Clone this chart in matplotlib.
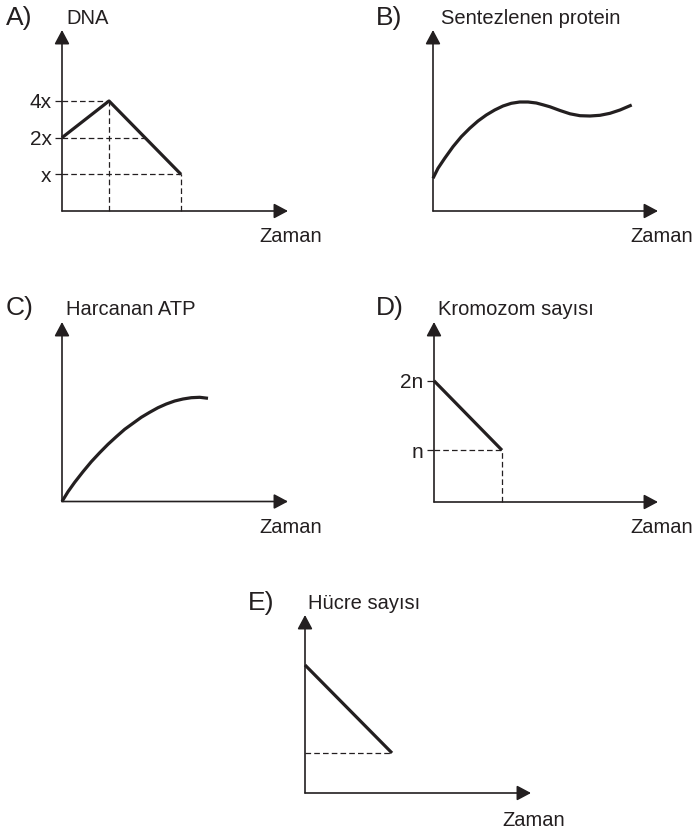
import numpy as np
import matplotlib
matplotlib.use("Agg")
import matplotlib.pyplot as plt
from matplotlib.patches import ArrowStyle

plt.rcParams["font.family"] = ["Liberation Sans", "DejaVu Sans"]

# ---- data (schematic units) ----
# A) DNA amount over time
dna_time = [0.0, 4.7, 11.9]
dna_level = [2, 4, 1]
dna_ticks = [1, 2, 4]
dna_ticklabels = ["x", "2x", "4x"]

# B) synthesised protein
protein_time = [0.0, 0.5, 1.17, 2.0, 2.83, 3.67, 4.5, 5.33, 6.17, 7.0, 7.83, 8.67,
                9.5, 10.33, 11.0, 11.7, 12.7, 13.7, 14.7, 15.7, 16.7, 17.7, 18.7, 19.87]
protein_amount = [3.27, 4.27, 5.27, 6.43, 7.43, 8.27, 9.0, 9.6, 10.1, 10.5, 10.77, 10.9,
                  10.9, 10.8, 10.62, 10.42, 10.05, 9.72, 9.53, 9.5, 9.57, 9.77, 10.1, 10.6]

# C) ATP consumed
atp_time = [0.0, 0.6, 1.27, 2.1, 2.93, 3.77, 4.6, 5.43, 6.27, 7.1, 7.93, 8.77,
            9.6, 10.43, 11.27, 12.1, 12.93, 13.77, 14.6]
atp_used = [0.0, 0.98, 1.92, 2.98, 3.98, 4.88, 5.72, 6.48, 7.22, 7.82, 8.42, 8.92,
            9.38, 9.75, 10.05, 10.25, 10.38, 10.42, 10.32]

# D) chromosome number
chrom_time = [0.0, 6.8]
chrom_level = [2, 1]
chrom_ticks = [1, 2]
chrom_ticklabels = ["n", "2n"]

# E) cell number
cell_time = [0.0, 8.7]
cell_count = [12.8, 4.0]

# ---- styling ----
W, H = 694, 834
INK = "#231f20"
fig = plt.figure(figsize=(W / 100, H / 100), dpi=100)
fig.patch.set_facecolor("white")

LABEL_FS = 14.5
LETTER_FS = 19
TICK_FS = 15
CURVE_LW = 2.3
AXIS_LW = 1.2
DASH_LW = 0.9
DASH = (0, (4.5, 2.5))
HEAD = ArrowStyle("-|>", head_length=0.45, head_width=0.24)


def panel(ox, oy, tx, ty, xlim, ylim, yscale="linear"):
    """Axes whose lower-left corner is the origin and whose edges are the arrow tips (pixels)."""
    ax = fig.add_axes([ox / W, 1 - oy / H, (tx - ox) / W, (oy - ty) / H])
    if yscale == "log":
        ax.set_yscale("log", base=2)
    ax.set_xlim(*xlim)
    ax.set_ylim(*ylim)
    for s in ax.spines.values():
        s.set_visible(False)
    ax.set_xticks([])
    ax.set_yticks([])
    ax.minorticks_off()
    ax.patch.set_alpha(0)
    arrow = dict(arrowstyle=HEAD, color=INK, lw=AXIS_LW, mutation_scale=19,
                 shrinkA=0, shrinkB=0)
    ax.annotate("", xy=(1, 0), xytext=(0, 0), xycoords="axes fraction",
                textcoords="axes fraction", arrowprops=arrow, annotation_clip=False)
    ax.annotate("", xy=(0, 1), xytext=(0, 0), xycoords="axes fraction",
                textcoords="axes fraction", arrowprops=arrow, annotation_clip=False)
    return ax


def yticks(ax, ticks, labels):
    ax.set_yticks(ticks)
    ax.set_yticklabels(labels)
    ax.minorticks_off()
    ax.tick_params(axis="y", length=5, width=DASH_LW, color=INK, pad=2.5,
                   labelsize=TICK_FS, labelcolor=INK, direction="out")


def dashed(ax, xs, ys):
    ax.plot(xs, ys, color=INK, lw=DASH_LW, ls=DASH, clip_on=False)


def curve(ax, xs, ys):
    ax.plot(xs, ys, color=INK, lw=CURVE_LW, solid_capstyle="butt",
            solid_joinstyle="round", clip_on=False)


def px_text(x, y, s, size=LABEL_FS, **kw):
    fig.text(x / W, 1 - y / H, s, fontsize=size, color=INK, ha="left",
             va="baseline", **kw)


# A) DNA
axA = panel(62, 211, 288, 30, (0, 22.6), (0.5, 15.3), yscale="log")
yticks(axA, dna_ticks, dna_ticklabels)
lvl_log = np.log2(dna_level)
for lv in dna_ticks:
    # time at which the graph reaches this level (last crossing)
    if lv == max(dna_level):
        t_hit = dna_time[int(np.argmax(dna_level))]
    elif lv == dna_level[0]:
        seg_t = dna_time[1:]
        seg_l = lvl_log[1:]
        t_hit = np.interp(np.log2(lv), seg_l[::-1], seg_t[::-1])
    else:
        t_hit = dna_time[dna_level.index(lv)]
    dashed(axA, [0, t_hit], [lv, lv])
dashed(axA, [dna_time[1], dna_time[1]], [0.5, dna_level[1]])
dashed(axA, [dna_time[2], dna_time[2]], [0.5, dna_level[2]])
curve(axA, dna_time, dna_level)

# B) protein
axB = panel(433, 211, 658, 30, (0, 22.5), (0, 18.1))
curve(axB, protein_time, protein_amount)

# C) ATP
axC = panel(62, 501.5, 288, 322, (0, 22.6), (0, 17.95))
curve(axC, atp_time, atp_used)

# D) chromosome number
axD = panel(434, 502, 658, 322, (0, 22.4), (0.254, 2.847))
yticks(axD, chrom_ticks, chrom_ticklabels)
dashed(axD, [0, chrom_time[1]], [chrom_level[1], chrom_level[1]])
dashed(axD, [chrom_time[1], chrom_time[1]], [0.254, chrom_level[1]])
curve(axD, chrom_time, chrom_level)

# E) cell number
axE = panel(305, 793, 531, 615, (0, 22.6), (0, 17.8))
dashed(axE, [0, cell_time[1]], [cell_count[1], cell_count[1]])
curve(axE, cell_time, cell_count)

# ---- panel letters and axis titles ----
px_text(6, 24.5, "A)", size=LETTER_FS)
px_text(66, 24.5, "DNA")
px_text(259, 242, "Zaman")

px_text(376, 24.5, "B)", size=LETTER_FS)
px_text(441, 24.5, "Sentezlenen protein")
px_text(630, 242, "Zaman")

px_text(6, 315, "C)", size=LETTER_FS)
px_text(66, 315, "Harcanan ATP")
px_text(259, 533, "Zaman")

px_text(376, 315, "D)", size=LETTER_FS)
px_text(438, 315, "Kromozom sayısı")
px_text(630, 533, "Zaman")

px_text(248, 610, "E)", size=LETTER_FS)
px_text(308, 609, "Hücre sayısı")
px_text(502, 826, "Zaman")

fig.savefig("out.png", dpi=100, facecolor="white")
